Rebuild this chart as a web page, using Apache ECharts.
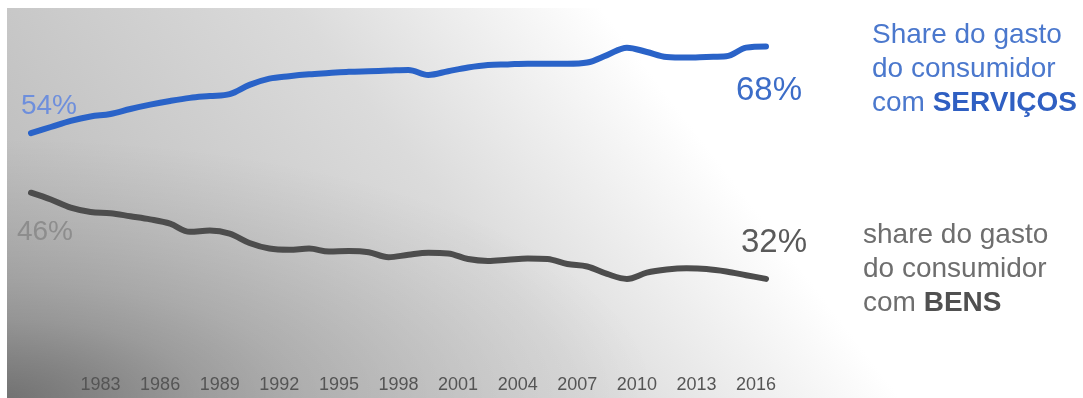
<!DOCTYPE html>
<html>
<head>
<meta charset="utf-8">
<script src="https://cdn.jsdelivr.net/npm/echarts@6/dist/echarts.min.js"></script>
<style>
html, body { margin: 0; padding: 0; background: #fff; }
#chart { width: 1083px; height: 398px; }
</style>
</head>
<body>
<div id="chart"></div>
<script>
// annual values, plotted at mid-year
const years = [1979, 1980, 1981, 1982, 1983, 1984, 1985, 1986, 1987, 1988,
    1989, 1990, 1991, 1992, 1993, 1994, 1995, 1996, 1997, 1998,
    1999, 2000, 2001, 2002, 2003, 2004, 2005, 2006, 2007, 2008,
    2009, 2010, 2011, 2012, 2013, 2014, 2015, 2016];
const services = [54.0, 55.0, 56.0, 56.7, 57.1, 57.9, 58.6, 59.2, 59.7, 60.0,
    60.3, 61.8, 62.8, 63.2, 63.5, 63.7, 63.9, 64.0, 64.1, 64.2,
    63.4, 64.0, 64.6, 65.0, 65.1, 65.2, 65.2, 65.2, 65.4, 66.6,
    67.8, 67.1, 66.3, 66.2, 66.3, 66.4, 67.8, 68.0];
const goods = [45.9, 44.8, 43.5, 42.8, 42.6, 42.1, 41.6, 40.9, 39.6, 39.8,
    39.3, 37.8, 36.9, 36.7, 36.9, 36.4, 36.5, 36.3, 35.5, 35.9,
    36.2, 36.1, 35.2, 34.9, 35.1, 35.3, 35.2, 34.4, 34.0, 32.8,
    32.0, 33.0, 33.5, 33.7, 33.6, 33.2, 32.6, 32.0];
const yearTicks = [1983, 1986, 1989, 1992, 1995, 1998, 2001, 2004, 2007, 2010, 2013, 2016];
const servicesText = ['Share do gasto', 'do consumidor', 'com {b|SERVIÇOS}'];
const goodsText = ['share do gasto', 'do consumidor', 'com {b|BENS}'];

const font = '"Liberation Sans", Arial, sans-serif';

function toPoints(values) {
    return values.map((v, i) => [years[i] + 0.5, v]);
}

const servicesPts = toPoints(services);
const goodsPts = toPoints(goods);
const last = years.length - 1;

function pctMark(points, i, color, size, offset) {
    return {
        coord: points[i],
        value: points[i][1],
        label: { color: color, fontSize: size, offset: offset }
    };
}

function marks(data) {
    return {
        symbol: 'circle',
        symbolSize: 0,
        silent: true,
        animation: false,
        label: {
            show: true,
            position: 'inside',
            fontFamily: font,
            formatter: p => Math.round(p.value) + '%'
        },
        data: data
    };
}

const chart = echarts.init(document.getElementById('chart'));

chart.setOption({
    animation: false,
    backgroundColor: '#fff',
    grid: { left: 31, right: 317, top: 3, bottom: 54 },
    xAxis: {
        type: 'value',
        min: 1979.5,
        max: 2016.5,
        splitLine: { show: false },
        axisLine: { show: false },
        axisTick: { show: false },
        axisLabel: {
            customValues: yearTicks,
            formatter: v => String(v),
            margin: 32,
            color: '#555',
            fontSize: 18,
            fontFamily: font
        }
    },
    yAxis: [
        { type: 'value', min: 20, max: 75, show: false },
        { type: 'value', min: 21.5, max: 76.5, show: false }
    ],
    graphic: [
        {
            type: 'rect',
            z: -10,
            silent: true,
            shape: { x: 7, y: 8, width: 1076, height: 390 },
            style: {
                fill: {
                    type: 'linear', x: 0, y: 398, x2: 566, y2: -37, global: true,
                    colorStops: [
                        { offset: 0, color: '#b2b2b2' },
                        { offset: 0.33, color: '#c7c7c7' },
                        { offset: 0.66, color: '#dbdbdb' },
                        { offset: 0.85, color: '#efefef' },
                        { offset: 1, color: '#ffffff' }
                    ]
                }
            }
        },
        {
            // darker corner bottom-left (circle stretched into an ellipse)
            type: 'rect',
            z: -9,
            silent: true,
            x: 7,
            y: 138,
            scaleX: 2.5,
            originX: 0,
            originY: 0,
            shape: { x: 0, y: 0, width: 260, height: 260 },
            style: {
                fill: {
                    type: 'radial', x: 0, y: 1, r: 1,
                    colorStops: [
                        { offset: 0, color: 'rgba(0,0,0,0.36)' },
                        { offset: 0.15, color: 'rgba(0,0,0,0.28)' },
                        { offset: 0.3, color: 'rgba(0,0,0,0.19)' },
                        { offset: 0.45, color: 'rgba(0,0,0,0.13)' },
                        { offset: 0.6, color: 'rgba(0,0,0,0.09)' },
                        { offset: 0.8, color: 'rgba(0,0,0,0.045)' },
                        { offset: 1, color: 'rgba(0,0,0,0)' }
                    ]
                }
            }
        },
        {
            type: 'text',
            x: 872,
            y: 69,
            silent: true,
            style: {
                text: servicesText.join('\n'),
                fill: '#4b78cd',
                fontSize: 28,
                fontFamily: font,
                lineHeight: 34,
                align: 'left',
                verticalAlign: 'middle',
                rich: {
                    b: { fill: '#2f5fc2', fontWeight: 'bold', fontSize: 28, fontFamily: font, lineHeight: 34 }
                }
            }
        },
        {
            type: 'text',
            x: 863,
            y: 269,
            silent: true,
            style: {
                text: goodsText.join('\n'),
                fill: '#6e6e6e',
                fontSize: 28,
                fontFamily: font,
                lineHeight: 34,
                align: 'left',
                verticalAlign: 'middle',
                rich: {
                    b: { fill: '#505050', fontWeight: 'bold', fontSize: 28, fontFamily: font, lineHeight: 34 }
                }
            }
        }
    ],
    series: [
        {
            name: 'Serviços',
            type: 'line',
            yAxisIndex: 0,
            data: servicesPts,
            smooth: 0.35,
            showSymbol: false,
            lineStyle: { color: '#2a63c8', width: 6, cap: 'round', join: 'round' },
            markPoint: marks([
                pctMark(servicesPts, 0, '#6e8fdc', 28, [18, -27]),
                pctMark(servicesPts, last, '#3c6dc8', 33, [3, 45])
            ])
        },
        {
            name: 'Bens',
            type: 'line',
            yAxisIndex: 1,
            data: goodsPts,
            smooth: 0.35,
            showSymbol: false,
            lineStyle: { color: '#4d4d4d', width: 6, cap: 'round', join: 'round' },
            markPoint: marks([
                pctMark(goodsPts, 0, '#8d8d8d', 28, [14, 40]),
                pctMark(goodsPts, last, '#5a5a5a', 33, [8, -36])
            ])
        }
    ]
});
</script>
</body>
</html>
